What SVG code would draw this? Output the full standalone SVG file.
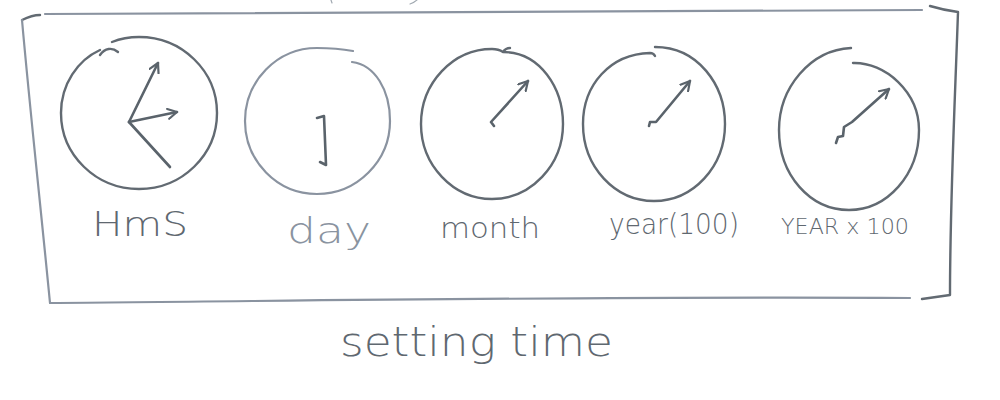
<svg xmlns="http://www.w3.org/2000/svg" width="1000" height="400" viewBox="0 0 1000 400">
<style>
.pen{fill:none;stroke:#626a72;stroke-width:2.4;stroke-linecap:round;stroke-linejoin:round}
.light{fill:none;stroke:#8a93a0;stroke-width:2.2;stroke-linecap:round;stroke-linejoin:round}
.hand{fill:none;stroke:#5a636b;stroke-width:2.6;stroke-linecap:round;stroke-linejoin:round}
.lbl{font-family:"DejaVu Sans","Liberation Sans",sans-serif;fill:#5f6870;font-weight:300}
</style>
<defs>
<marker id="head" viewBox="0 0 12 12" refX="10" refY="6" markerWidth="12" markerHeight="12" markerUnits="userSpaceOnUse" orient="auto">
<path d="M1,1 L10,6 L1,11" fill="none" stroke="#5a636b" stroke-width="2.2" stroke-linecap="round" stroke-linejoin="round"/>
</marker>
</defs>
<rect width="1000" height="400" fill="#ffffff"/>

<g id="frame">
<path class="light" d="M45,14 C300,12 600,13 922,10"/>
<path class="pen" d="M22,20 C28,17 34,15 40,15"/>
<path class="light" d="M22,20 C30,110 40,200 50,303"/>
<path class="light" d="M50,303 C300,301 600,296 910,298"/>
<path class="pen" d="M930,6 C940,9 950,11 958,12 C955,100 950,200 950,295 L922,299"/>
<path d="M331,0 L332,3 M410,4 C413,3 416,1 418,-1" fill="none" stroke="#a0a8b0" stroke-width="1.2" stroke-linecap="round"/>
</g>

<g id="clock-hms">
<path class="pen" d="M112,42 C122,38 130,37 139,37 C182,37 217,71 217,113 C217,155 182,189 139,189 C96,189 61,155 61,113 C61,84 78,60 100,50"/>
<path class="pen" d="M100,55 C105,48 112,47 118,52"/>
<line class="hand" x1="129" y1="122" x2="158" y2="63" marker-end="url(#head)"/>
<line class="hand" x1="129" y1="122" x2="177" y2="112" marker-end="url(#head)"/>
<line class="hand" x1="129" y1="122" x2="170" y2="167"/>
<text class="lbl" x="92" y="236" font-size="34" textLength="96" lengthAdjust="spacingAndGlyphs">HmS</text>
</g>

<g id="clock-day">
<path class="light" d="M352,62 C375,65 390,90 390,121 C390,161 357,194 317,194 C277,194 245,161 245,121 C245,81 277,48 317,48 C330,48 342,49 353,51"/>
<path class="hand" d="M317,118 L324,116 L326,165 L320,162"/>
<text class="lbl" x="287" y="243" font-size="36" style="fill:#8a93a0" textLength="84" lengthAdjust="spacingAndGlyphs">day</text>
</g>

<g id="clock-month">
<path class="pen" d="M503,52 C540,52 563,88 563,124 C563,165 531,199 492,199 C453,199 421,165 421,124 C421,83 453,49 492,49 C497,49 500,50 503,52 C505,49 507,48 510,48"/>
<path class="hand" d="M494,126 L491,122 L528,81" marker-end="url(#head)"/>
<text class="lbl" x="440" y="238" font-size="28" textLength="100" lengthAdjust="spacingAndGlyphs">month</text>
</g>

<g id="clock-year100">
<path class="pen" d="M655,47 C698,47 725,85 725,124 C725,167 693,201 654,201 C615,201 583,167 583,124 C583,85 610,54 650,53 C652,53 654,54 655,56"/>
<path class="hand" d="M649,126 L650,122 L656,122 L690,81" marker-end="url(#head)"/>
<text class="lbl" x="609" y="234" font-size="28" textLength="130" lengthAdjust="spacingAndGlyphs">year(100)</text>
</g>

<g id="clock-year-x100">
<path class="pen" d="M853,63 C885,62 919,92 919,130 C919,175 887,210 849,210 C810,210 779,175 779,130 C779,88 810,50 851,48"/>
<path class="hand" d="M836,143 L838,137 L843,136 L844,127 L852,122 L889,89" marker-end="url(#head)"/>
<text class="lbl" x="781" y="234" font-size="22" textLength="128" lengthAdjust="spacingAndGlyphs">YEAR x 100</text>
</g>

<g id="connectors"></g>

<g id="caption">
<text class="lbl" x="340" y="356" font-size="40" textLength="273" lengthAdjust="spacingAndGlyphs">setting time</text>
</g>
</svg>
